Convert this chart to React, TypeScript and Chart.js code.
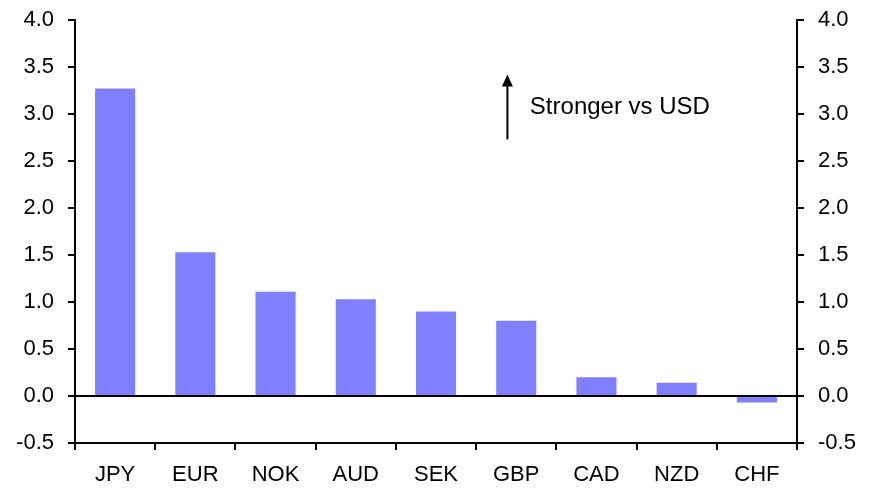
import React, { useEffect, useRef } from "react";
import { Chart, registerables } from "chart.js";

Chart.register(...registerables);

const categories = ["JPY", "EUR", "NOK", "AUD", "SEK", "GBP", "CAD", "NZD", "CHF"];
const values = [3.27, 1.53, 1.11, 1.03, 0.9, 0.8, 0.2, 0.14, -0.07];
const yMin = -0.5;
const yMax = 4.0;
const yStep = 0.5;
const annotationText = "Stronger vs USD";

const FONT = "'Liberation Sans', Arial, sans-serif";

const annotationPlugin = {
  id: "arrowNote",
  afterDraw(chart: any) {
    const { ctx, scales } = chart;
    const x = scales.x.getPixelForValue(4.89);
    const yTop = scales.y.getPixelForValue(3.42);
    const yBot = scales.y.getPixelForValue(2.73);
    ctx.save();
    ctx.strokeStyle = "#000";
    ctx.fillStyle = "#000";
    ctx.lineWidth = 2;
    ctx.beginPath();
    ctx.moveTo(x, yBot);
    ctx.lineTo(x, yTop + 10);
    ctx.stroke();
    ctx.beginPath();
    ctx.moveTo(x, yTop);
    ctx.lineTo(x - 5.5, yTop + 12);
    ctx.lineTo(x + 5.5, yTop + 12);
    ctx.closePath();
    ctx.fill();
    ctx.font = `24px ${FONT}`;
    ctx.textAlign = "left";
    ctx.textBaseline = "middle";
    const tx = scales.x.getPixelForValue(5.17);
    const ty = scales.y.getPixelForValue(3.07);
    ctx.fillText(annotationText, tx, ty);
    ctx.restore();
  },
};

export default function App() {
  const ref = useRef<HTMLCanvasElement | null>(null);
  useEffect(() => {
    if (!ref.current) return;
    const tickFont = { family: FONT, size: 22 };
    const yTicks = {
      stepSize: yStep,
      color: "#000",
      font: tickFont,
      padding: 14,
      callback: (v: any) => Number(v).toFixed(1),
    };
    const fitY = (w: number) => (s: any) => {
      s.width = w;
      s.paddingTop = 0;
      s.paddingBottom = 0;
    };
    const chart = new Chart(ref.current, {
      type: "bar",
      data: {
        labels: categories,
        datasets: [
          {
            data: values,
            backgroundColor: "#8080FF",
            barPercentage: 0.5,
            categoryPercentage: 1,
            yAxisID: "y",
          },
        ],
      },
      options: {
        responsive: false,
        animation: false,
        layout: { padding: { top: 20, left: 0, right: 0, bottom: 0 } },
        plugins: { legend: { display: false }, tooltip: { enabled: false } },
        scales: {
          x: {
            grid: {
              offset: true,
              drawOnChartArea: false,
              color: "#000",
              tickColor: "#000",
              lineWidth: 2,
              tickLength: 7,
            },
            border: { display: true, color: "#000", width: 2 },
            ticks: { color: "#000", font: tickFont, padding: 12, maxRotation: 0 },
            afterFit: (s: any) => {
              s.height = 48;
              s.paddingLeft = 0;
              s.paddingRight = 0;
            },
          },
          y: {
            position: "left",
            min: yMin,
            max: yMax,
            grid: {
              color: (c: any) => (c.tick && c.tick.value === 0 ? "#000" : "rgba(0,0,0,0)"),
              tickColor: "#000",
              lineWidth: 2,
              tickLength: 7,
            },
            border: { display: true, color: "#000", width: 2 },
            ticks: yTicks,
            afterFit: fitY(75),
          },
          y2: {
            position: "right",
            min: yMin,
            max: yMax,
            grid: {
              drawOnChartArea: false,
              color: "#000",
              tickColor: "#000",
              lineWidth: 2,
              tickLength: 7,
            },
            border: { display: true, color: "#000", width: 2 },
            ticks: yTicks,
            afterFit: fitY(79),
          },
        },
      },
      plugins: [annotationPlugin],
    });
    return () => chart.destroy();
  }, []);
  return (
    <div style={{ position: "absolute", left: 0, top: 0, width: 876, height: 491 }}>
      <canvas ref={ref} width={876} height={491} style={{ display: "block" }} />
    </div>
  );
}
